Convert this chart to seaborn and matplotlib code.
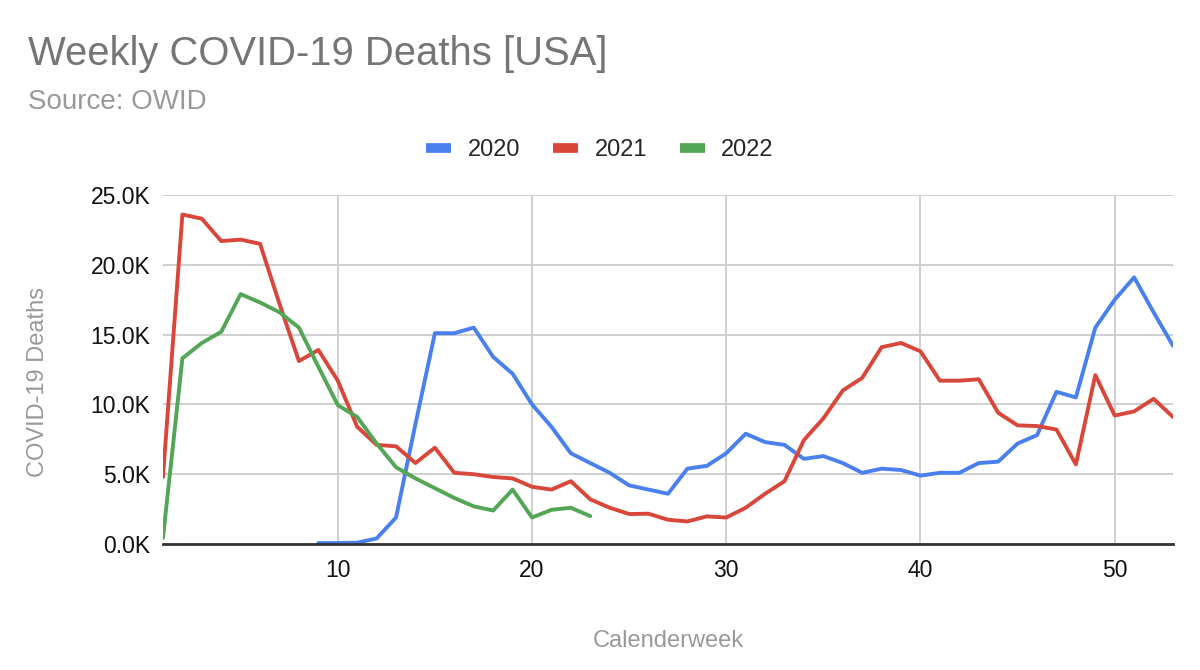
import matplotlib
matplotlib.use("Agg")
import matplotlib.pyplot as plt
import numpy as np
import pandas as pd
import seaborn as sns
from matplotlib.ticker import FuncFormatter, MultipleLocator

# Weekly COVID-19 deaths in the USA (source: OWID)
weeks_2020 = list(range(9, 54))
deaths_2020 = [
    70, 70, 100, 400, 1900, 8600, 15100, 15100, 15500, 13400,
    12200, 10000, 8400, 6500, 5800, 5100, 4200, 3900, 3600, 5400,
    5600, 6500, 7900, 7300, 7100, 6100, 6300, 5800, 5100, 5400,
    5300, 4900, 5100, 5100, 5800, 5900, 7200, 7800, 10900, 10500,
    15500, 17500, 19100, 16600, 14200,
]

weeks_2021 = list(range(1, 54))
deaths_2021 = [
    4800, 23600, 23300, 21700, 21800, 21500, 17200, 13100, 13900, 11700,
    8400, 7100, 7000, 5800, 6900, 5100, 5000, 4800, 4700, 4100,
    3900, 4500, 3200, 2600, 2150, 2170, 1740, 1620, 1980, 1900,
    2600, 3600, 4500, 7450, 9000, 11000, 11900, 14100, 14400, 13800,
    11700, 11700, 11800, 9400, 8500, 8450, 8200, 5700, 12100, 9200,
    9500, 10400, 9100,
]

weeks_2022 = list(range(1, 24))
deaths_2022 = [
    430, 13300, 14400, 15200, 17900, 17300, 16600, 15500, 12700, 9950,
    9100, 7200, 5500, 4700, 4000, 3300, 2700, 2400, 3900, 1900,
    2450, 2600, 2000,
]

years = ["2020", "2021", "2022"]
colors = {"2020": "#4a80ee", "2021": "#d8473a", "2022": "#52a655"}

df = pd.concat([
    pd.DataFrame({"week": weeks_2020, "deaths": deaths_2020, "year": "2020"}),
    pd.DataFrame({"week": weeks_2021, "deaths": deaths_2021, "year": "2021"}),
    pd.DataFrame({"week": weeks_2022, "deaths": deaths_2022, "year": "2022"}),
])

sns.set_theme(style="white")
plt.rcParams["font.family"] = ["Liberation Sans", "DejaVu Sans"]

fig, ax = plt.subplots(figsize=(12, 6.7), dpi=100)
fig.subplots_adjust(left=0.1358, right=0.9775, bottom=0.188, top=0.709)

sns.lineplot(
    data=df, x="week", y="deaths", hue="year", hue_order=years,
    palette=colors, linewidth=2.8, ax=ax, legend=False,
    solid_joinstyle="round", solid_capstyle="round",
)

ax.set_xlim(1, 53)
ax.set_ylim(0, 25000)
ax.xaxis.set_major_locator(MultipleLocator(10))
ax.yaxis.set_major_locator(MultipleLocator(5000))
ax.yaxis.set_major_formatter(FuncFormatter(lambda v, _: f"{v / 1000:.1f}K"))
ax.grid(True, color="#cccccc", linewidth=1.3)
ax.set_axisbelow(True)
for side in ["left", "right", "top"]:
    ax.spines[side].set_visible(False)
ax.spines["bottom"].set_color("#333333")
ax.spines["bottom"].set_linewidth(2)
ax.tick_params(axis="both", length=0, labelsize=16.5, colors="#111111")
ax.tick_params(axis="y", pad=9)
ax.tick_params(axis="x", pad=11)
ax.set_xlabel("")
ax.set_ylabel("")

# titles and axis labels
fig.text(28 / 1200, 1 - 65 / 670, "Weekly COVID-19 Deaths [USA]",
         fontsize=28.8, color="#757575", va="baseline", ha="left")
fig.text(28 / 1200, 1 - 109 / 670, "Source: OWID",
         fontsize=20, color="#999999", va="baseline", ha="left")
fig.text(668 / 1200, 1 - 641 / 670, "Calenderweek",
         fontsize=17, color="#999999", ha="center", va="center")
fig.text(38 / 1200, 1 - 382 / 670, "COVID-19 Deaths",
         fontsize=17, color="#999999", ha="center", va="center", rotation=90)

# legend on top
handles = [plt.Line2D([], [], color=colors[y], linewidth=7, solid_capstyle="butt")
           for y in years]
fig.legend(handles, years, loc="center", bbox_to_anchor=(0.5, 1 - 150 / 670),
           ncol=3, frameon=False, fontsize=17, handlelength=1.05,
           handletextpad=0.7, columnspacing=1.4)

fig.savefig("out.png", dpi=100)
